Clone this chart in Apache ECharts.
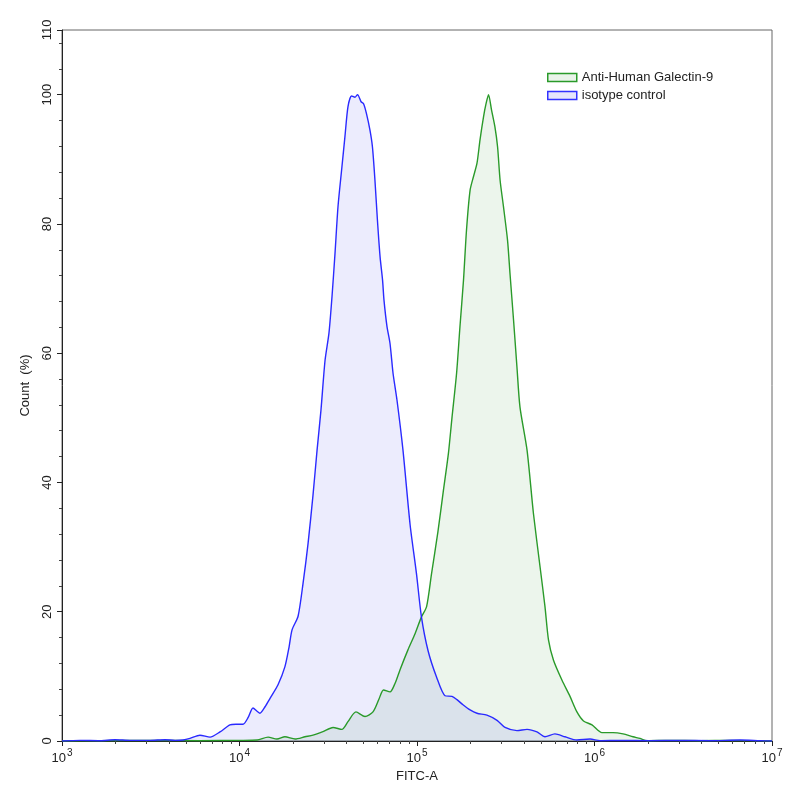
<!DOCTYPE html>
<html>
<head>
<meta charset="utf-8">
<script src="https://cdn.jsdelivr.net/npm/echarts@6/dist/echarts.min.js"></script>
<style>
  html, body { margin: 0; padding: 0; background: #fff; }
  #chart { width: 800px; height: 800px; }
</style>
</head>
<body>
<div id="chart"></div>
<script>
// x values are log10(FITC-A), y values are Count (%)
var galectinX = [3.0, 3.214, 3.496, 3.777, 4.003, 4.099, 4.161, 4.211, 4.256, 4.313, 4.369, 4.414, 4.470, 4.527, 4.577, 4.611, 4.656, 4.707, 4.752, 4.786, 4.811, 4.848, 4.876, 4.904, 4.949, 4.989, 5.025, 5.054, 5.082, 5.118, 5.149, 5.177, 5.197, 5.223, 5.242, 5.262, 5.279, 5.299, 5.318, 5.338, 5.355, 5.375, 5.389, 5.403, 5.420, 5.439, 5.454, 5.468, 5.487, 5.510, 5.524, 5.544, 5.563, 5.580, 5.620, 5.656, 5.693, 5.721, 5.741, 5.769, 5.817, 5.862, 5.901, 5.938, 5.986, 6.042, 6.104, 6.161, 6.217, 6.256, 6.296, 6.425, 6.594, 6.763, 7.0];
var galectinY = [0, 0.05, 0.1, 0.05, 0.1, 0.15, 0.6, 0.3, 0.65, 0.3, 0.65, 0.9, 1.45, 2.1, 1.8, 3.0, 4.5, 3.8, 4.5, 6.5, 7.9, 7.6, 8.9, 11.0, 14.1, 16.6, 19.2, 20.8, 25.9, 32.4, 38.8, 44.5, 50, 56.9, 64.1, 71.3, 79.1, 85.2, 87.3, 89.4, 93.0, 96.6, 98.6, 100, 97.6, 95.0, 91.9, 86.8, 82.7, 77.5, 72.3, 65.1, 57.9, 51.7, 45.0, 35.2, 27.0, 20.8, 15.6, 12.5, 9.4, 6.9, 4.5, 3.1, 2.5, 1.3, 1.3, 1.1, 0.65, 0.4, 0.05, 0.1, 0.05, 0.1, 0];

var isotypeX = [3.0, 3.101, 3.214, 3.299, 3.383, 3.496, 3.580, 3.637, 3.682, 3.721, 3.777, 3.834, 3.890, 3.946, 3.980, 4.020, 4.048, 4.076, 4.099, 4.115, 4.144, 4.172, 4.217, 4.256, 4.279, 4.296, 4.330, 4.358, 4.386, 4.414, 4.437, 4.459, 4.482, 4.504, 4.521, 4.538, 4.555, 4.577, 4.594, 4.611, 4.631, 4.651, 4.665, 4.685, 4.699, 4.715, 4.735, 4.749, 4.763, 4.777, 4.792, 4.806, 4.814, 4.831, 4.848, 4.865, 4.887, 4.921, 4.961, 4.997, 5.025, 5.062, 5.110, 5.158, 5.197, 5.225, 5.259, 5.299, 5.338, 5.394, 5.451, 5.496, 5.563, 5.620, 5.676, 5.721, 5.777, 5.834, 5.901, 5.975, 6.031, 6.144, 6.313, 6.482, 6.651, 6.820, 6.932, 7.0];
var isotypeY = [0, 0.1, 0.05, 0.2, 0.1, 0.1, 0.2, 0.1, 0.15, 0.4, 0.9, 0.6, 1.4, 2.5, 2.6, 2.6, 3.6, 5.1, 4.6, 4.3, 5.3, 6.6, 8.7, 11.5, 14.5, 17.2, 19.3, 24.4, 30.5, 38.0, 45, 51.2, 58.9, 63.1, 68.7, 75.4, 82.7, 88.8, 93.5, 98.1, 99.8, 99.6, 100, 98.9, 98.6, 97.1, 94.5, 91.9, 86.8, 80.6, 74.9, 71.3, 68.2, 64.1, 61.5, 56.9, 52.8, 45, 33.5, 25.9, 19.2, 14.0, 9.9, 7.0, 6.9, 6.4, 5.6, 4.8, 4.3, 4.0, 3.2, 2.1, 1.6, 1.8, 1.4, 0.65, 1.1, 0.65, 0.15, 0.3, 0.05, 0.1, 0.05, 0.1, 0.05, 0.15, 0.05, 0];

var seriesNames = ['Anti-Human Galectin-9', 'isotype control'];
var yLabels = [0, 20, 40, 60, 80, 100, 110];
var yMinor = [4, 8, 12, 16, 24, 28, 32, 36, 44, 48, 52, 56, 64, 68, 72, 76, 84, 88, 92, 96, 104, 108];

var minorX = [];
for (var d = 3; d < 7; d++) {
    for (var k = 2; k <= 9; k++) {
        minorX.push(d + Math.log10(k));
    }
}

function pairs(xs, ys) {
    return xs.map(function (x, i) { return [x, ys[i]]; });
}

var font = 'Liberation Sans, Arial, sans-serif';
var chart = echarts.init(document.getElementById('chart'));

var option = {
    animation: false,
    backgroundColor: '#fff',
    grid: {
        left: 62, right: 28, top: 30, bottom: 59,
        show: true, borderColor: '#666', borderWidth: 1
    },
    legend: {
        orient: 'vertical',
        left: 542, top: 66,
        itemWidth: 29, itemHeight: 8, itemGap: 5,
        icon: 'rect',
        textStyle: { fontFamily: font, fontSize: 13, color: '#222' },
        data: [
            { name: seriesNames[0], itemStyle: { color: '#e9f3e9', borderColor: '#2a9a2a', borderWidth: 1.5 } },
            { name: seriesNames[1], itemStyle: { color: '#e6e6fb', borderColor: '#3333ff', borderWidth: 1.5 } }
        ]
    },
    xAxis: [{
        type: 'value',
        min: 3, max: 7, interval: 1,
        name: 'FITC-A',
        nameLocation: 'middle',
        nameGap: 29,
        nameTextStyle: { fontFamily: font, fontSize: 13, color: '#222' },
        axisLine: { onZero: false, lineStyle: { color: '#222' } },
        axisTick: { length: 5, lineStyle: { color: '#222' } },
        splitLine: { show: false },
        axisLabel: {
            margin: 7,
            formatter: function (v) { return '{b|10}{s|' + v + '}'; },
            rich: {
                b: { fontFamily: font, fontSize: 13, color: '#222', verticalAlign: 'bottom', lineHeight: 17 },
                s: { fontFamily: font, fontSize: 10, color: '#222', verticalAlign: 'top', lineHeight: 17, padding: [0, 0, 7, 1] }
            }
        }
    }, {
        type: 'value',
        position: 'bottom',
        min: 3, max: 7,
        axisLine: { show: false },
        axisLabel: { show: false },
        splitLine: { show: false },
        axisTick: { show: true, length: 3, customValues: minorX, lineStyle: { color: '#444' } }
    }],
    yAxis: [{
        type: 'value',
        min: 0, max: 110, interval: 20,
        name: 'Count  (%)',
        nameLocation: 'middle',
        nameGap: 30,
        nameTextStyle: { fontFamily: font, fontSize: 13, color: '#222' },
        axisLine: { show: true, lineStyle: { color: '#222' } },
        axisTick: { show: true, length: 5, customValues: yLabels, lineStyle: { color: '#222' } },
        splitLine: { show: false },
        axisLabel: {
            rotate: 90, margin: 8,
            fontFamily: font, fontSize: 13, color: '#222',
            customValues: yLabels
        }
    }, {
        type: 'value',
        position: 'left',
        min: 0, max: 110,
        axisLine: { show: false },
        axisLabel: { show: false },
        splitLine: { show: false },
        axisTick: { show: true, length: 3, customValues: yMinor, lineStyle: { color: '#444' } }
    }],
    series: [{
        name: seriesNames[0],
        type: 'line',
        data: pairs(galectinX, galectinY),
        showSymbol: false,
        smooth: 0.25,
        lineStyle: { color: '#2a9a2a', width: 1.4 },
        itemStyle: { color: '#2a9a2a' },
        areaStyle: { color: 'rgba(40,140,40,0.12)' }
    }, {
        name: seriesNames[1],
        type: 'line',
        data: pairs(isotypeX, isotypeY),
        showSymbol: false,
        smooth: 0.25,
        lineStyle: { color: '#2a2aff', width: 1.4 },
        itemStyle: { color: '#2a2aff' },
        areaStyle: { color: 'rgba(40,40,235,0.12)' }
    }]
};

chart.setOption(option);
</script>
</body>
</html>
